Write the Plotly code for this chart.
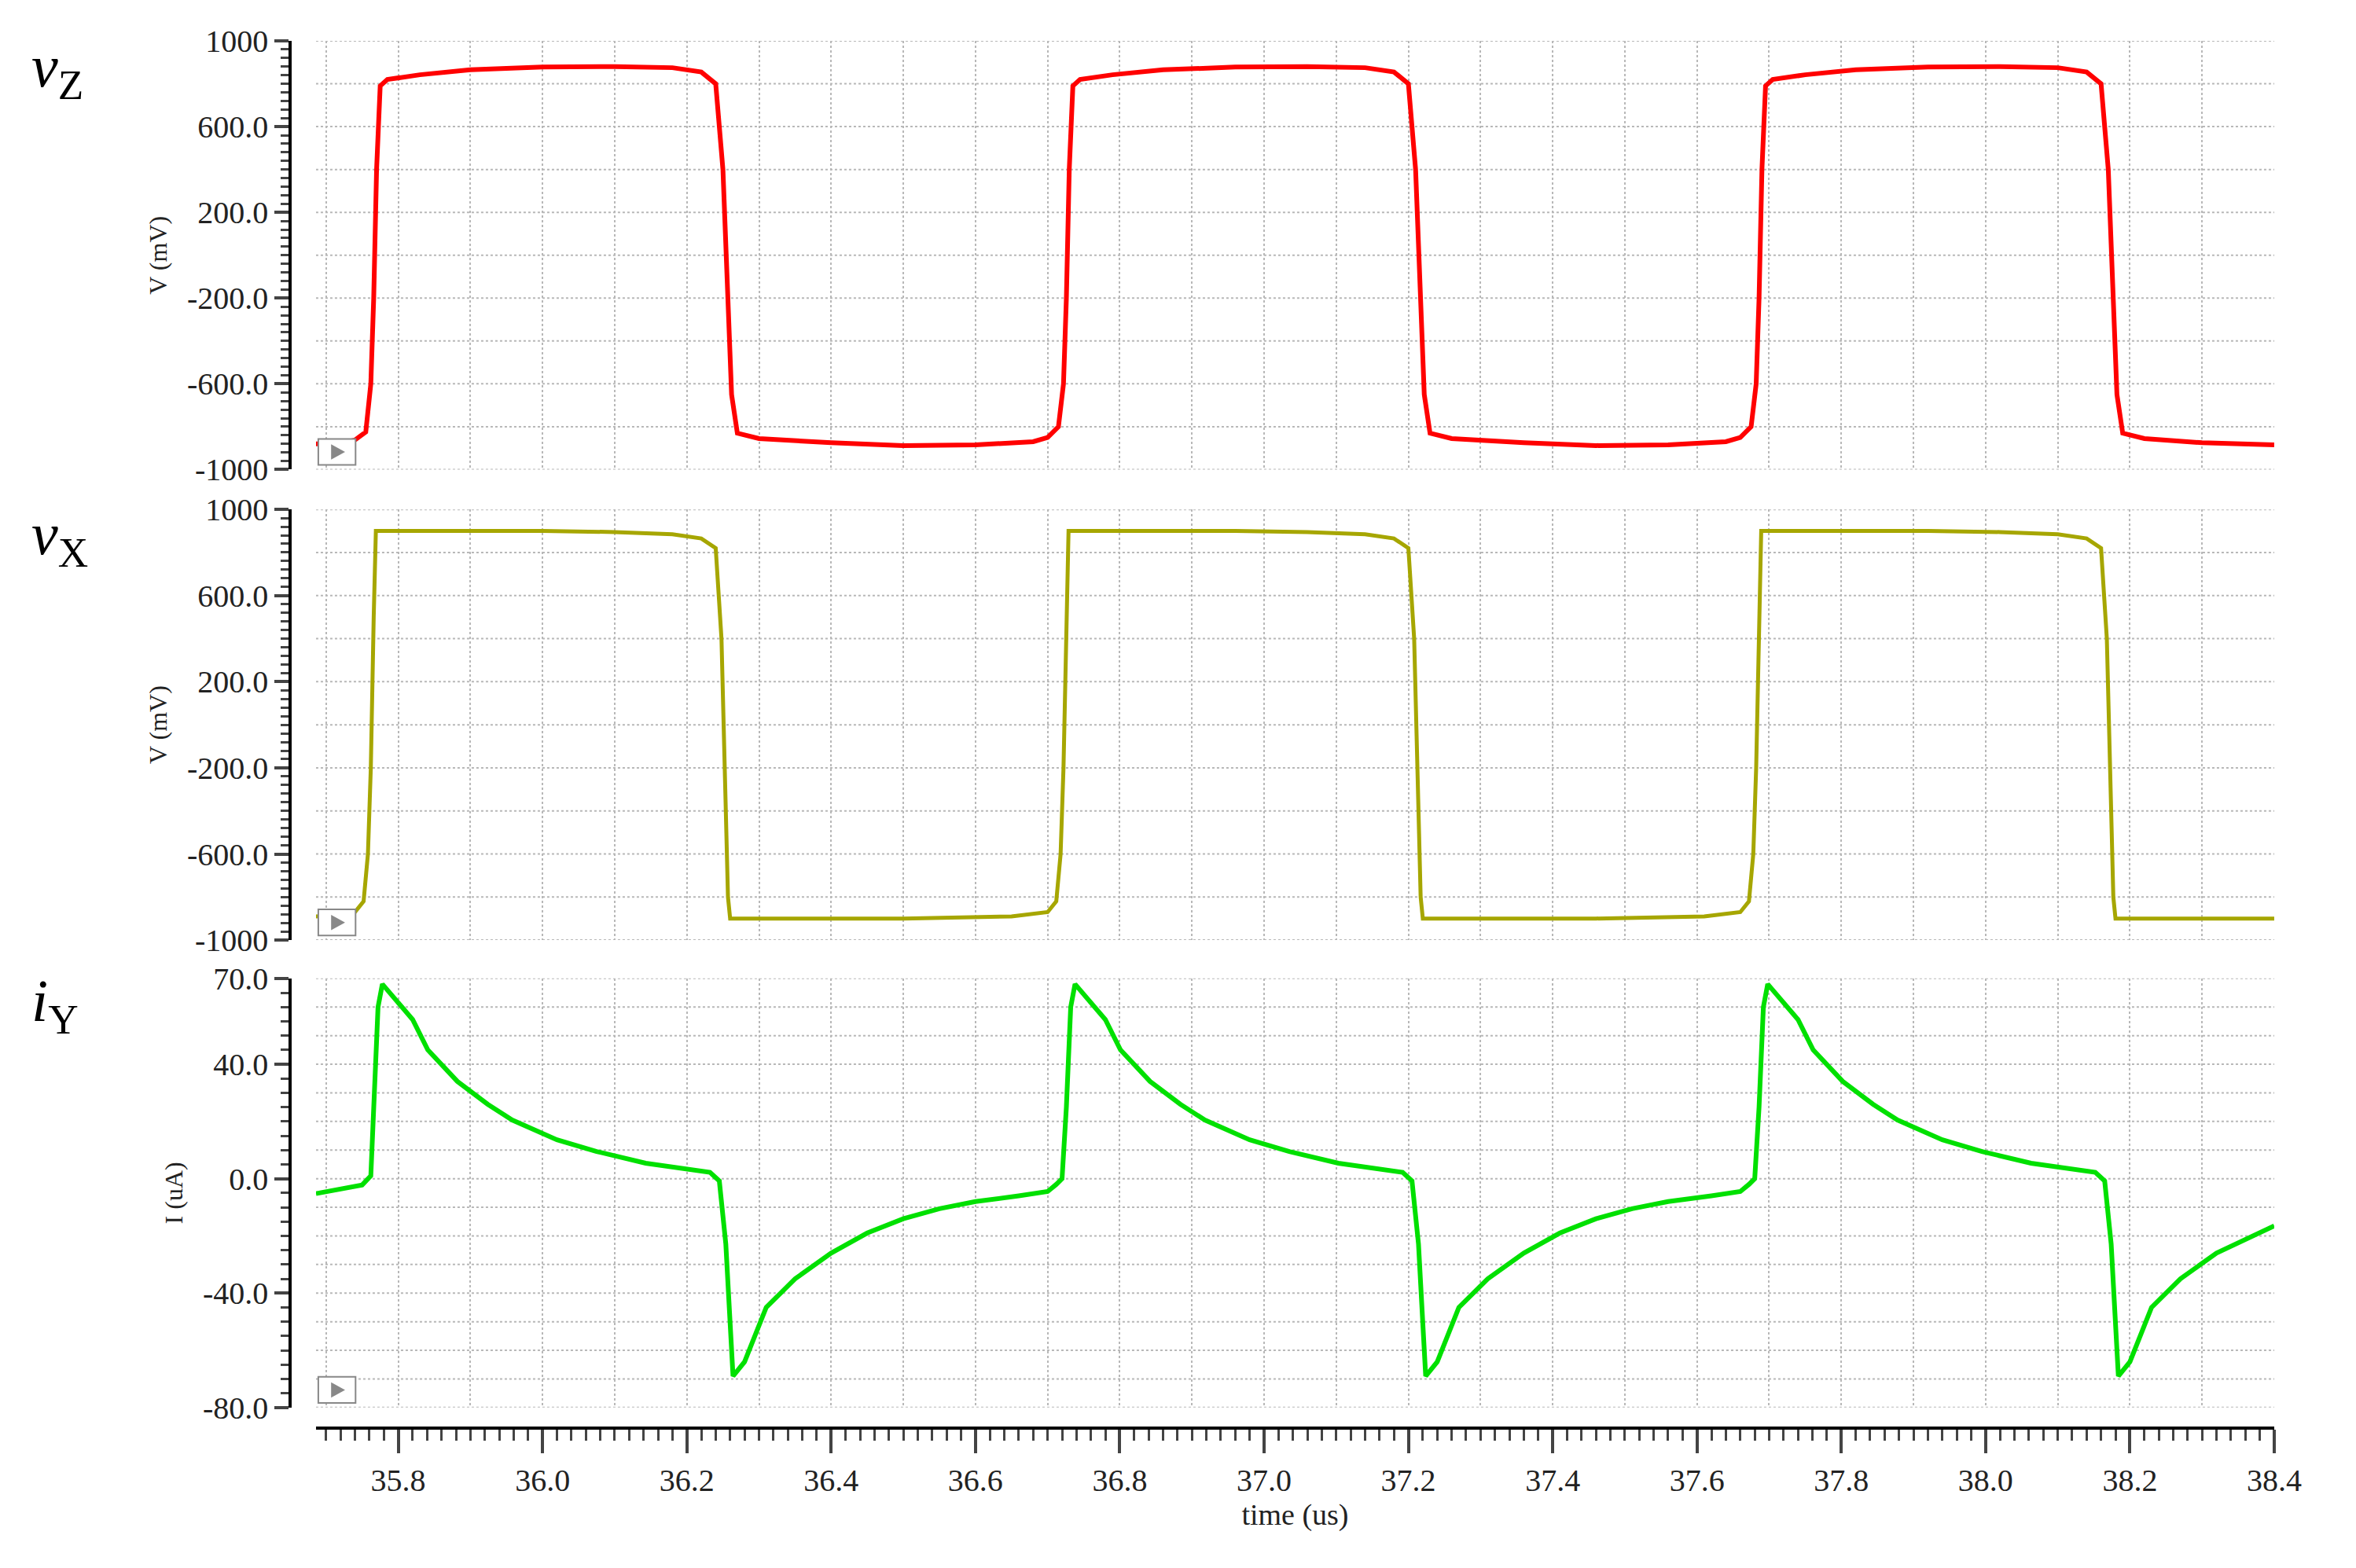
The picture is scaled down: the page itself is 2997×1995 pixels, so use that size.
import plotly.graph_objects as go

# waveform samples (time in us)
t_vz = [35.686, 35.72, 35.74, 35.755, 35.762, 35.766, 35.77, 35.775, 35.785, 35.83, 35.9, 36.0, 36.1, 36.18, 36.22, 36.24, 36.25, 36.257, 36.262, 36.27, 36.3, 36.4, 36.5, 36.6, 36.68,
        36.7, 36.715, 36.722, 36.726, 36.73, 36.735, 36.745, 36.79, 36.86, 36.96, 37.06, 37.14, 37.18, 37.2, 37.21, 37.217, 37.222, 37.23, 37.26, 37.36, 37.46, 37.56, 37.64,
        37.66, 37.675, 37.682, 37.686, 37.69, 37.695, 37.705, 37.75, 37.82, 37.92, 38.02, 38.1, 38.14, 38.16, 38.17, 38.177, 38.182, 38.19, 38.22, 38.3, 38.4]
vz = [-880, -878, -862, -825, -600, -200, 400, 790, 820, 842, 865, 878, 880, 875, 855, 800, 400, -200, -650, -830, -855, -875, -888, -885, -870,
      -850, -800, -600, -200, 400, 790, 820, 842, 865, 878, 880, 875, 855, 800, 400, -200, -650, -830, -855, -875, -888, -885, -870,
      -850, -800, -600, -200, 400, 790, 820, 842, 865, 878, 880, 875, 855, 800, 400, -200, -650, -830, -855, -875, -885]

t_vx = [35.686, 35.72, 35.74, 35.752, 35.758, 35.762, 35.766, 35.769, 35.9, 36.0, 36.1, 36.18, 36.22, 36.24, 36.248, 36.252, 36.257, 36.26, 36.5, 36.65, 36.7,
        36.712, 36.718, 36.722, 36.726, 36.729, 36.86, 36.96, 37.06, 37.14, 37.18, 37.2, 37.208, 37.212, 37.217, 37.22, 37.46, 37.61, 37.66,
        37.672, 37.678, 37.682, 37.686, 37.689, 37.82, 37.92, 38.02, 38.1, 38.14, 38.16, 38.168, 38.172, 38.177, 38.18, 38.4]
vx = [-890, -885, -870, -820, -600, -200, 500, 900, 900, 900, 895, 885, 865, 820, 400, -200, -800, -900, -900, -890, -870,
      -820, -600, -200, 500, 900, 900, 900, 895, 885, 865, 820, 400, -200, -800, -900, -900, -890, -870,
      -820, -600, -200, 500, 900, 900, 900, 895, 885, 865, 820, 400, -200, -800, -900, -900]

t_iy = [35.686, 35.75, 35.762, 35.766, 35.772, 35.778, 35.82, 35.841, 35.882, 35.924, 35.958, 36.02, 36.075, 36.143, 36.197, 36.232, 36.245, 36.254, 36.259, 36.264,
        36.28, 36.31, 36.35, 36.4, 36.45, 36.5, 36.55, 36.6, 36.66, 36.7, 36.712, 36.72, 36.726, 36.732, 36.738,
        36.78, 36.801, 36.842, 36.884, 36.918, 36.98, 37.035, 37.103, 37.157, 37.192, 37.205, 37.214, 37.219, 37.224,
        37.24, 37.27, 37.31, 37.36, 37.41, 37.46, 37.51, 37.56, 37.62, 37.66, 37.672, 37.68, 37.686, 37.692, 37.698,
        37.74, 37.761, 37.802, 37.844, 37.878, 37.94, 37.995, 38.063, 38.117, 38.152, 38.165, 38.174, 38.179, 38.184,
        38.2, 38.23, 38.27, 38.32, 38.4]
iy = [-5.2, -2.2, 1, 25, 60, 68, 55.6, 45, 34, 26, 20.5, 13.6, 9.5, 5.4, 3.3, 2.2, -0.8, -22.8, -46, -69,
      -64, -45, -35, -26, -19, -14, -10.5, -8, -6, -4.5, -2, 0, 25, 60, 68,
      55.6, 45, 34, 26, 20.5, 13.6, 9.5, 5.4, 3.3, 2.2, -0.8, -22.8, -46, -69,
      -64, -45, -35, -26, -19, -14, -10.5, -8, -6, -4.5, -2, 0, 25, 60, 68,
      55.6, 45, 34, 26, 20.5, 13.6, 9.5, 5.4, 3.3, 2.2, -0.8, -22.8, -46, -69,
      -64, -45, -35, -26, -16.5]

v_ticks = [1000, 600, 200, -200, -600, -1000]
v_labels = ['1000', '600.0', '200.0', '-200.0', '-600.0', '-1000']
i_ticks = [70, 40, 0, -40, -80]
i_labels = ['70.0', '40.0', '0.0', '-40.0', '-80.0']
x_ticks = [35.8, 36.0, 36.2, 36.4, 36.6, 36.8, 37.0, 37.2, 37.4, 37.6, 37.8, 38.0, 38.2, 38.4]

font = 'Liberation Serif'
xr = [35.686, 38.4]
xl, xrgt = 0.133, 0.974
doms = [[0.709, 0.9887], [0.402, 0.683], [0.097, 0.377]]

fig = go.Figure()
fig.add_trace(go.Scatter(x=t_vz, y=vz, mode='lines', line=dict(color='#ff0000', width=6), xaxis='x', yaxis='y'))
fig.add_trace(go.Scatter(x=t_vx, y=vx, mode='lines', line=dict(color='#a6a600', width=5), xaxis='x2', yaxis='y2'))
fig.add_trace(go.Scatter(x=t_iy, y=iy, mode='lines', line=dict(color='#00e000', width=6), xaxis='x3', yaxis='y3'))

lay = dict(width=2997, height=1995, showlegend=False, plot_bgcolor='white', paper_bgcolor='white',
           margin=dict(l=0, r=0, t=0, b=0), font=dict(family=font, size=38, color='#222'))
for k in range(3):
    s = '' if k == 0 else str(k + 1)
    lay['xaxis' + s] = dict(domain=[xl, xrgt], range=xr, anchor='y' + s, showticklabels=False, ticks='',
                             tick0=35.7, dtick=0.1, zeroline=False, showgrid=True,
                             gridcolor='#b8b8b8', griddash='dot', gridwidth=2)
    if k < 2:
        yd = dict(range=[-1000, 1000], tickvals=v_ticks, ticktext=v_labels,
                  minor=dict(dtick=40, ticks='outside', ticklen=10, tickwidth=3),
                  title=dict(text='V (mV)', font=dict(size=32)))
    else:
        yd = dict(range=[-80, 70], tickvals=i_ticks, ticktext=i_labels,
                  minor=dict(dtick=5, ticks='outside', ticklen=10, tickwidth=3),
                  title=dict(text='I (uA)', font=dict(size=32)))
    lay['yaxis' + s] = dict(domain=doms[k], anchor='free', position=0.122, showline=True, linecolor='black', linewidth=4,
                             ticks='outside', ticklen=18, tickwidth=4, zeroline=False, showgrid=False,
                             tickfont=dict(size=40), **yd)
fig.update_layout(**lay)

# horizontal dotted grid lines inside each panel
for k, ys in enumerate([[-1000 + 200 * j for j in range(11)], [-1000 + 200 * j for j in range(11)], list(range(-80, 71, 10))]):
    s = '' if k == 0 else str(k + 1)
    for yv in ys:
        fig.add_shape(type='line', xref='x' + s, yref='y' + s, x0=xr[0], x1=xr[1], y0=yv, y1=yv,
                      line=dict(color='#b8b8b8', width=2, dash='dot'), layer='below')

# bottom time axis
fig.update_layout(xaxis4=dict(domain=[xl, xrgt], range=xr, anchor='free', position=0.0836, overlaying='x3',
                              showline=True, linecolor='black', linewidth=4, side='bottom',
                              tickvals=x_ticks, ticktext=[f'{v:.1f}' for v in x_ticks], ticks='outside', ticklen=30, tickwidth=4,
                              minor=dict(dtick=0.02, tick0=35.7, ticks='outside', ticklen=14, tickwidth=3),
                              showgrid=False, zeroline=False, tickfont=dict(size=40),
                              title=dict(text='time (us)', font=dict(size=38), standoff=4)))
fig.add_trace(go.Scatter(x=[36.0], y=[0], mode='markers', marker=dict(opacity=0), xaxis='x4', yaxis='y3', hoverinfo='skip'))

# panel labels and play boxes
for lbl, y in [('<i>v</i><sub>Z</sub>', 0.995), ('<i>v</i><sub>X</sub>', 0.69), ('<i>i</i><sub>Y</sub>', 0.385)]:
    fig.add_annotation(text=lbl, xref='paper', yref='paper', x=0.01, y=y, xanchor='left', yanchor='top',
                       showarrow=False, font=dict(size=76, family=font, color='black'))
for d in doms:
    b = d[0]
    fig.add_shape(type='rect', xref='paper', yref='paper', x0=0.134, x1=0.150, y0=b + 0.003, y1=b + 0.02,
                  line=dict(color='#888', width=2), fillcolor='white')
    fig.add_shape(type='path', xref='paper', yref='paper',
                  path=f'M 0.1395 {b + 0.0065} L 0.1395 {b + 0.0165} L 0.1455 {b + 0.0115} Z',
                  line=dict(width=0), fillcolor='#888')

fig.write_html('out.html')
